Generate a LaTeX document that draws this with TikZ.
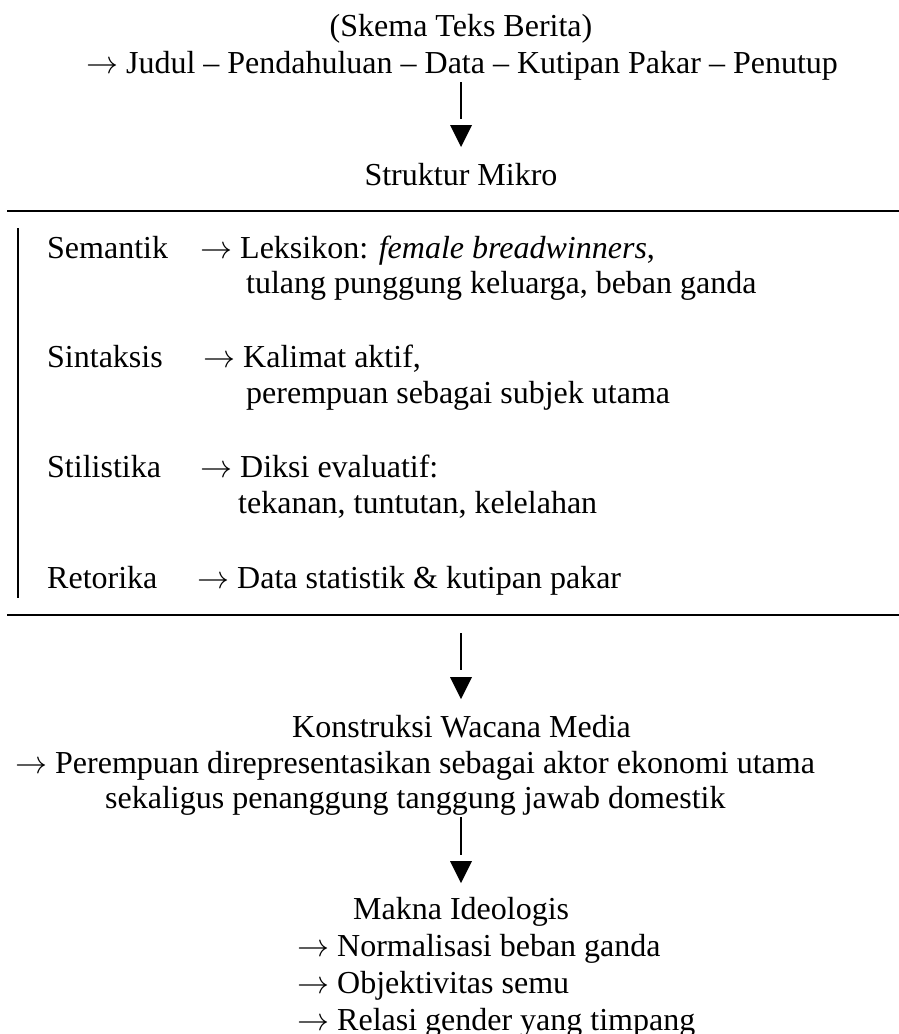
\documentclass[tikz,border=0pt]{standalone}
\usepackage{graphicx}
\usepackage{fontspec}
\setmainfont{Liberation Serif}
\newcommand{\ar}{\scalebox{3.2}{\fontsize{10}{12}\selectfont$\rightarrow$}}
\begin{document}
\begin{tikzpicture}[x=1pt,y=-1pt,
  txt/.style={font=\fontsize{32}{38}\selectfont, inner sep=0pt, anchor=base west},
  ctxt/.style={font=\fontsize{32}{38}\selectfont, inner sep=0pt, anchor=base},
  conn/.style={line width=2pt},
  rulestyle/.style={line width=2.6pt},
  bar/.style={line width=2pt},
  tip/.style={fill=black}]
\useasboundingbox[fill=white] (0,0) rectangle (899,1034);

% top
\node[ctxt] (skema) at (461,36) {(Skema Teks Berita)};
\node[ctxt] (judul) at (462,73) {\ar{} Judul – Pendahuluan – Data – Kutipan Pakar – Penutup};
\coordinate (a1s) at (461,82);
\coordinate (a1e) at (461,119);
\draw[conn] (a1s) -- (a1e);
\fill[tip] (450,125) -- (472,125) -- (461,147) -- cycle;
\node[ctxt] (mikro) at (461,185) {Struktur Mikro};

% rules
\coordinate (r1a) at (7,211); \coordinate (r1b) at (899,211);
\draw[rulestyle] (r1a) -- (r1b);
\coordinate (r2a) at (7,615); \coordinate (r2b) at (899,615);
\draw[rulestyle] (r2a) -- (r2b);
\coordinate (bta) at (18,228); \coordinate (btb) at (18,598);
\draw[bar] (bta) -- (btb);

% micro rows
\node[txt] (sem) at (47,258) {Semantik};
\node[txt] (semv) at (200,258) {\ar{} Leksikon: \textit{female breadwinners},};
\node[txt] (semv2) at (246,293) {tulang punggung keluarga, beban ganda};

\node[txt] (sin) at (47,367) {Sintaksis};
\node[txt] (sinv) at (203,367) {\ar{} Kalimat aktif,};
\node[txt] (sinv2) at (246,403) {perempuan sebagai subjek utama};

\node[txt] (sti) at (47,477) {Stilistika};
\node[txt] (stiv) at (200,477) {\ar{} Diksi evaluatif:};
\node[txt] (stiv2) at (238,513) {tekanan, tuntutan, kelelahan};

\node[txt] (ret) at (47,588) {Retorika};
\node[txt] (retv) at (197,588) {\ar{} Data statistik \& kutipan pakar};

% arrow 2
\coordinate (a2s) at (461,633);
\coordinate (a2e) at (461,670);
\draw[conn] (a2s) -- (a2e);
\fill[tip] (450,677) -- (472,677) -- (461,699) -- cycle;

\node[txt] (kon) at (292,737) {Konstruksi Wacana Media};
\node[txt] (kon1) at (15,773) {\ar{} Perempuan direpresentasikan sebagai aktor ekonomi utama};
\node[txt] (kon2) at (105,808) {sekaligus penanggung tanggung jawab domestik};

% arrow 3
\coordinate (a3s) at (461,817);
\coordinate (a3e) at (461,855);
\draw[conn] (a3s) -- (a3e);
\fill[tip] (450,861) -- (472,861) -- (461,883) -- cycle;

\node[txt] (mak) at (353,919) {Makna Ideologis};
\node[txt] (mak1) at (297,956) {\ar{} Normalisasi beban ganda};
\node[txt] (mak2) at (297,993) {\ar{} Objektivitas semu};
\node[txt] (mak3) at (297,1030) {\ar{} Relasi gender yang timpang};
\end{tikzpicture}
\end{document}
